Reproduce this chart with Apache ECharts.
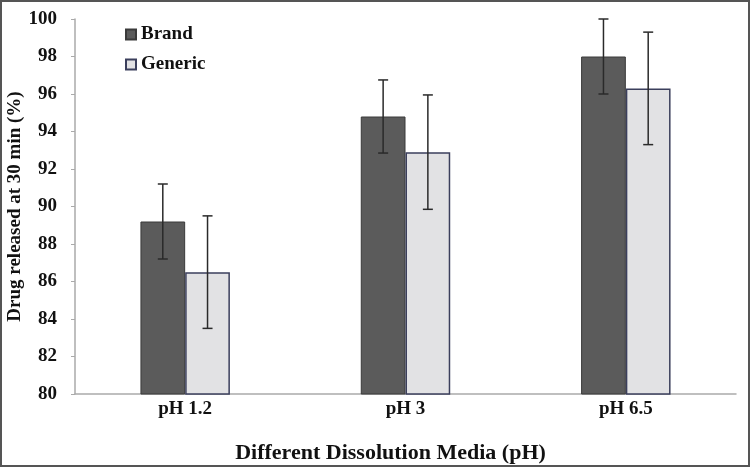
<!DOCTYPE html>
<html>
<head>
<meta charset="utf-8">
<script src="https://cdn.jsdelivr.net/npm/echarts@6/dist/echarts.min.js"></script>
<style>
html,body{margin:0;padding:0;background:#fff;}
#chart{width:750px;height:467px;}
</style>
</head>
<body>
<div id="chart"></div>
<script>
const categories = ['pH 1.2', 'pH 3', 'pH 6.5'];
const brandMeans = [89.2, 94.8, 98.0];
const brandSD = [2.0, 1.95, 2.0];
const genericMeans = [86.5, 92.9, 96.3];
const genericSD = [3.0, 3.05, 3.0];
const yTicks = [80, 82, 84, 86, 88, 90, 92, 94, 96, 98, 100];

const FONT = '"Liberation Serif", "Times New Roman", serif';
const BAR_FRAC = 0.203;

function errData(means, sds) {
  return means.map((m, i) => [i, m - sds[i], m + sds[i]]);
}
function makeErr(sign) {
  return function (params, api) {
    const band = api.size([1, 0])[0];
    const off = sign * band * BAR_FRAC / 2;
    const lo = api.coord([api.value(0), api.value(1)]);
    const hi = api.coord([api.value(0), api.value(2)]);
    const x = lo[0] + off;
    const cap = 5;
    const st = { stroke: '#2a2a2a', lineWidth: 1.5 };
    return {
      type: 'group',
      children: [
        { type: 'line', shape: { x1: x, y1: lo[1], x2: x, y2: hi[1] }, style: st },
        { type: 'line', shape: { x1: x - cap, y1: lo[1], x2: x + cap, y2: lo[1] }, style: st },
        { type: 'line', shape: { x1: x - cap, y1: hi[1], x2: x + cap, y2: hi[1] }, style: st }
      ]
    };
  };
}

const chart = echarts.init(document.getElementById('chart'));
chart.setOption({
  animation: false,
  backgroundColor: '#fff',
  graphic: [{
    type: 'rect', silent: true, z: 100,
    shape: { x: 1, y: 1, width: 748, height: 465 },
    style: { fill: 'none', stroke: '#555', lineWidth: 2 }
  }],
  grid: { left: 75, right: 14, top: 19, bottom: 73, containLabel: false, outerBoundsMode: 'none' },
  legend: {
    data: ['Brand', 'Generic'],
    orient: 'vertical',
    left: 120, top: 20,
    icon: 'rect',
    itemWidth: 10, itemHeight: 10, itemGap: 11,
    textStyle: { fontFamily: FONT, fontWeight: 'bold', fontSize: 19, color: '#111' }
  },
  xAxis: {
    type: 'category',
    data: categories,
    axisLine: { lineStyle: { color: '#aaa', width: 1.5 } },
    axisTick: { show: false },
    axisLabel: { fontFamily: FONT, fontWeight: 'bold', fontSize: 19, color: '#111', margin: 6 },
    name: 'Different Dissolution Media (pH)',
    nameLocation: 'middle',
    nameGap: 48,
    nameMoveOverlap: false,
    nameTextStyle: { fontFamily: FONT, fontWeight: 'bold', fontSize: 22, color: '#111', padding: [0, 30, 0, 0] }
  },
  yAxis: {
    type: 'value',
    min: yTicks[0], max: yTicks[yTicks.length - 1], interval: 2,
    splitLine: { show: false },
    axisLine: { show: true, lineStyle: { color: '#aaa', width: 1.5 } },
    axisTick: { show: true, length: 4, lineStyle: { color: '#aaa' } },
    axisLabel: { fontFamily: FONT, fontWeight: 'bold', fontSize: 19, color: '#111', margin: 18 },
    name: 'Drug released at 30 min (%)',
    nameLocation: 'middle',
    nameGap: 50,
    nameMoveOverlap: false,
    nameTextStyle: { fontFamily: FONT, fontWeight: 'bold', fontSize: 19, color: '#111' }
  },
  series: [
    {
      name: 'Brand', type: 'bar', data: brandMeans,
      barWidth: (BAR_FRAC * 100) + '%', barGap: '0%',
      itemStyle: { color: '#5b5b5b', borderColor: '#3a3a3a', borderWidth: 1 }
    },
    {
      name: 'Generic', type: 'bar', data: genericMeans,
      barWidth: (BAR_FRAC * 100) + '%', barGap: '0%',
      itemStyle: { color: '#e2e2e4', borderColor: '#3b3f5c', borderWidth: 1.5 }
    },
    {
      type: 'custom', z: 10, renderItem: makeErr(-1),
      data: errData(brandMeans, brandSD), encode: { x: 0, y: [1, 2] }
    },
    {
      type: 'custom', z: 10, renderItem: makeErr(1),
      data: errData(genericMeans, genericSD), encode: { x: 0, y: [1, 2] }
    }
  ]
});
</script>
</body>
</html>
